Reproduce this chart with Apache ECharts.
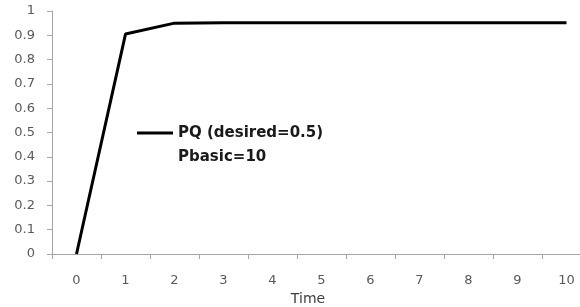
<!DOCTYPE html>
<html><head><meta charset="utf-8">
<script src="https://cdn.jsdelivr.net/npm/echarts@6/dist/echarts.min.js"></script>
<style>html,body{margin:0;padding:0;background:#fff}#c{width:580px;height:307px}</style>
</head><body><div id="c"></div>
<script>
const categories = ['0','1','2','3','4','5','6','7','8','9','10'];
const pqValues = [0, 0.905, 0.95, 0.952, 0.952, 0.952, 0.952, 0.952, 0.952, 0.952, 0.952];
const seriesName = 'PQ (desired=0.5)';
const legendSecondLine = 'Pbasic=10';
const xTitle = 'Time';

const chart = echarts.init(document.getElementById('c'), null, {renderer: 'canvas'});
chart.setOption({
  animation: false,
  backgroundColor: '#fff',
  textStyle: {fontFamily: 'DejaVu Sans'},
  grid: {left: 52, top: 11, width: 539, height: 243, containLabel: false, outerBoundsMode: 'none'},
  legend: {
    left: 137, top: 97, padding: 0,
    data: [seriesName],
    itemWidth: 36, itemHeight: 14,
    icon: 'path://M0,0 L36,0 L36,3 L0,3 Z',
    formatter: function (n) { return ' \n' + n + '\n' + legendSecondLine; },
    textStyle: {fontFamily: 'DejaVu Sans', fontSize: 15, fontWeight: 'bold', color: '#1a1a1a', lineHeight: 24}
  },
  xAxis: {
    type: 'category', data: categories, boundaryGap: true,
    name: xTitle, nameLocation: 'middle', nameGap: 37,
    nameTextStyle: {color: '#404040', fontSize: 14, padding: [0, 27, 0, 0]},
    axisLine: {lineStyle: {color: '#a6a6a6', width: 1}},
    axisTick: {show: true, length: 5, lineStyle: {color: '#a6a6a6'}},
    axisLabel: {color: '#595959', fontSize: 13, margin: 20},
    splitLine: {show: false}
  },
  yAxis: {
    type: 'value', min: 0, max: 1, interval: 0.1,
    axisLine: {show: true, lineStyle: {color: '#a6a6a6', width: 1}},
    axisTick: {show: true, length: 5, lineStyle: {color: '#a6a6a6'}},
    axisLabel: {color: '#595959', fontSize: 13, margin: 17, formatter: function (v) { return String(Math.round(v * 10) / 10); }},
    splitLine: {show: false}
  },
  series: [{
    name: seriesName, type: 'line', data: pqValues,
    symbol: 'none', lineStyle: {color: '#000', width: 3},
    itemStyle: {color: '#000'}
  }]
});
</script></body></html>
